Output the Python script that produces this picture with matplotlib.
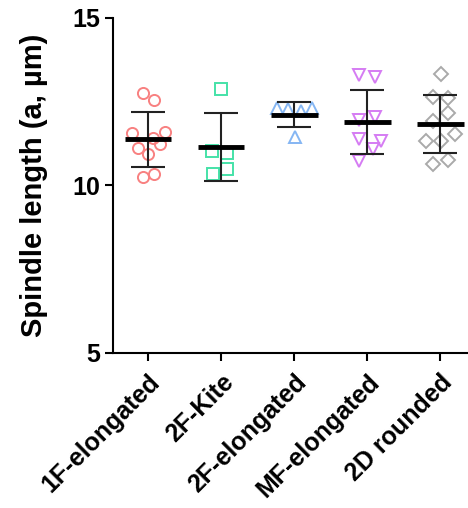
import numpy as np
import matplotlib
matplotlib.use("Agg")
import matplotlib.pyplot as plt

plt.rcParams['font.family'] = ['Liberation Sans', 'DejaVu Sans']
plt.rcParams['font.weight'] = 'bold'

groups = ['1F-elongated', '2F-Kite', '2F-elongated', 'MF-elongated', '2D rounded']

vals_1f = [12.76, 12.55, 11.57, 11.60, 11.42, 11.12, 11.24, 10.94, 10.25, 10.34]
vals_2fk = [12.88, 11.03, 10.97, 10.49, 10.34]
vals_2fe = [12.31, 12.28, 12.22, 12.31, 11.45]
vals_mf = [13.30, 13.24, 11.96, 12.04, 11.39, 11.33, 11.09, 10.73]
vals_2d = [13.33, 12.64, 12.61, 12.16, 11.93, 11.54, 11.33, 11.33, 10.64, 10.76]

# horizontal scatter of the points around each column
jit_1f = [-0.07, 0.08, -0.22, 0.23, 0.07, -0.14, 0.16, 0.0, -0.07, 0.08]
jit_2fk = [0.0, -0.12, 0.08, 0.08, -0.11]
jit_2fe = [-0.23, -0.08, 0.10, 0.25, 0.01]
jit_mf = [-0.11, 0.10, -0.11, 0.10, -0.11, 0.19, 0.08, -0.11]
jit_2d = [0.01, -0.10, 0.10, 0.10, -0.10, 0.20, -0.19, 0.01, -0.10, 0.10]

colors = ['#f88080', '#45e2a8', '#85b6f3', '#d57cf3', '#aaaaaa']
markers = ['o', 's', '^', 'v', 'D']
msizes = [8, 9, 8, 9, 7]

all_vals = [vals_1f, vals_2fk, vals_2fe, vals_mf, vals_2d]
all_jit = [jit_1f, jit_2fk, jit_2fe, jit_mf, jit_2d]

fig = plt.figure(figsize=(4.68, 5.08), dpi=100)
ax = fig.add_axes([113 / 468, 155 / 508, 355 / 468, 335 / 508])

for i, (v, j) in enumerate(zip(all_vals, all_jit)):
    v = np.array(v)
    x = i + np.array(j)
    ax.plot(x, v, linestyle='none', marker=markers[i], ms=msizes[i],
            mfc='none', mec=colors[i], mew=1.4, zorder=2)
    m = v.mean()
    sd = v.std(ddof=1)
    ax.errorbar(i, m, yerr=sd, fmt='none', ecolor='#222222', elinewidth=1.5,
                capsize=12, capthick=1.5, zorder=3)
    ax.plot([i - 0.32, i + 0.32], [m, m], color='black', lw=3.5,
            solid_capstyle='butt', zorder=4)

ax.set_xlim(-0.48, 4.38)
ax.set_ylim(5, 15)
ax.set_yticks([5, 10, 15])
ax.set_xticks(range(len(groups)))
ax.set_xticklabels(groups, rotation=45, ha='right', rotation_mode='anchor',
                   fontsize=18, fontweight='bold')
ax.tick_params(axis='y', labelsize=18, width=1.5, length=6)
ax.tick_params(axis='x', width=1.5, length=6, pad=6)
for lab in ax.get_yticklabels():
    lab.set_fontweight('bold')
ax.set_ylabel('Spindle length (a, µm)', fontsize=21, fontweight='bold', labelpad=17)

ax.spines['top'].set_visible(False)
ax.spines['right'].set_visible(False)
ax.spines['left'].set_linewidth(1.5)
ax.spines['bottom'].set_linewidth(1.5)

fig.savefig('out.png', dpi=100)
